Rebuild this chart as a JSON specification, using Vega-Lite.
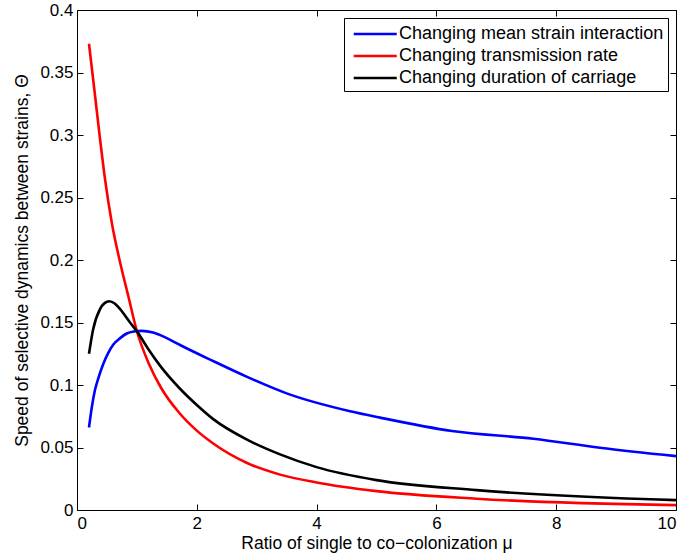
{
  "$schema": "https://vega.github.io/schema/vega-lite/v6.json",
  "autosize": {"type": "none"},
  "padding": {"left": 77, "top": 10, "right": 11, "bottom": 49},
  "width": 599,
  "height": 500,
  "background": "white",
  "config": {
    "font": "Liberation Sans",
    "view": {"stroke": "black", "strokeWidth": 1},
    "axis": {"grid": false, "domain": false, "ticks": true, "zindex": 1, "tickColor": "black", "tickWidth": 1, "tickOpacity": 1, "tickSize": 6, "offset": -6, "labelColor": "black", "titleColor": "black", "labelFont": "Liberation Sans", "titleFont": "Liberation Sans", "titleFontWeight": "normal"}
  },
  "datasets": {
    "curves": [
      {"s": "Changing mean strain interaction", "mu": 0.2, "theta": 0.066},
      {"s": "Changing mean strain interaction", "mu": 0.25, "theta": 0.083},
      {"s": "Changing mean strain interaction", "mu": 0.3, "theta": 0.096},
      {"s": "Changing mean strain interaction", "mu": 0.36, "theta": 0.106},
      {"s": "Changing mean strain interaction", "mu": 0.44, "theta": 0.117},
      {"s": "Changing mean strain interaction", "mu": 0.52, "theta": 0.1255},
      {"s": "Changing mean strain interaction", "mu": 0.61, "theta": 0.1326},
      {"s": "Changing mean strain interaction", "mu": 0.72, "theta": 0.1375},
      {"s": "Changing mean strain interaction", "mu": 0.83, "theta": 0.1412},
      {"s": "Changing mean strain interaction", "mu": 0.95, "theta": 0.1428},
      {"s": "Changing mean strain interaction", "mu": 1.08, "theta": 0.1433},
      {"s": "Changing mean strain interaction", "mu": 1.27, "theta": 0.142},
      {"s": "Changing mean strain interaction", "mu": 1.5, "theta": 0.1375},
      {"s": "Changing mean strain interaction", "mu": 1.72, "theta": 0.132},
      {"s": "Changing mean strain interaction", "mu": 2.28, "theta": 0.119},
      {"s": "Changing mean strain interaction", "mu": 2.83, "theta": 0.1067},
      {"s": "Changing mean strain interaction", "mu": 3.5, "theta": 0.0933},
      {"s": "Changing mean strain interaction", "mu": 4.56, "theta": 0.079},
      {"s": "Changing mean strain interaction", "mu": 5.06, "theta": 0.0739},
      {"s": "Changing mean strain interaction", "mu": 6.26, "theta": 0.0632},
      {"s": "Changing mean strain interaction", "mu": 7.62, "theta": 0.057},
      {"s": "Changing mean strain interaction", "mu": 8.73, "theta": 0.0498},
      {"s": "Changing mean strain interaction", "mu": 10, "theta": 0.0431},
      {"s": "Changing transmission rate", "mu": 0.2, "theta": 0.373},
      {"s": "Changing transmission rate", "mu": 0.3, "theta": 0.332},
      {"s": "Changing transmission rate", "mu": 0.384, "theta": 0.297},
      {"s": "Changing transmission rate", "mu": 0.467, "theta": 0.265},
      {"s": "Changing transmission rate", "mu": 0.58, "theta": 0.23},
      {"s": "Changing transmission rate", "mu": 0.72, "theta": 0.198},
      {"s": "Changing transmission rate", "mu": 0.857, "theta": 0.171},
      {"s": "Changing transmission rate", "mu": 1.0, "theta": 0.143},
      {"s": "Changing transmission rate", "mu": 1.2, "theta": 0.117},
      {"s": "Changing transmission rate", "mu": 1.4, "theta": 0.098},
      {"s": "Changing transmission rate", "mu": 1.72, "theta": 0.077},
      {"s": "Changing transmission rate", "mu": 2.0, "theta": 0.0635},
      {"s": "Changing transmission rate", "mu": 2.28, "theta": 0.053},
      {"s": "Changing transmission rate", "mu": 2.83, "theta": 0.0378},
      {"s": "Changing transmission rate", "mu": 3.39, "theta": 0.0283},
      {"s": "Changing transmission rate", "mu": 4.0, "theta": 0.022},
      {"s": "Changing transmission rate", "mu": 5.0, "theta": 0.0151},
      {"s": "Changing transmission rate", "mu": 6.67, "theta": 0.009},
      {"s": "Changing transmission rate", "mu": 10, "theta": 0.0039},
      {"s": "Changing duration of carriage", "mu": 0.2, "theta": 0.125},
      {"s": "Changing duration of carriage", "mu": 0.27, "theta": 0.1446},
      {"s": "Changing duration of carriage", "mu": 0.384, "theta": 0.1607},
      {"s": "Changing duration of carriage", "mu": 0.46, "theta": 0.1655},
      {"s": "Changing duration of carriage", "mu": 0.54, "theta": 0.167},
      {"s": "Changing duration of carriage", "mu": 0.63, "theta": 0.1652},
      {"s": "Changing duration of carriage", "mu": 0.72, "theta": 0.1607},
      {"s": "Changing duration of carriage", "mu": 0.885, "theta": 0.15},
      {"s": "Changing duration of carriage", "mu": 1.0, "theta": 0.143},
      {"s": "Changing duration of carriage", "mu": 1.2, "theta": 0.128},
      {"s": "Changing duration of carriage", "mu": 1.386, "theta": 0.1155},
      {"s": "Changing duration of carriage", "mu": 1.72, "theta": 0.097},
      {"s": "Changing duration of carriage", "mu": 2.0, "theta": 0.084},
      {"s": "Changing duration of carriage", "mu": 2.28, "theta": 0.0725},
      {"s": "Changing duration of carriage", "mu": 2.83, "theta": 0.0565},
      {"s": "Changing duration of carriage", "mu": 3.39, "theta": 0.0445},
      {"s": "Changing duration of carriage", "mu": 4.0, "theta": 0.0343},
      {"s": "Changing duration of carriage", "mu": 5.0, "theta": 0.0239},
      {"s": "Changing duration of carriage", "mu": 6.67, "theta": 0.0159},
      {"s": "Changing duration of carriage", "mu": 10, "theta": 0.0079}
    ]
  },
  "data": {"name": "curves"},
  "layer": [
    {
      "mark": {"type": "line", "strokeWidth": 2.6, "strokeJoin": "round", "interpolate": "monotone"},
      "encoding": {
        "x": {"field": "mu", "type": "quantitative", "scale": {"domain": [0, 10], "nice": false},
          "axis": {"orient": "bottom", "values": [0, 2, 4, 6, 8, 10], "labelPadding": 5, "labelFontSize": 17, "title": "Ratio of single to co\u2212colonization \u03bc", "titleFontSize": 17.5, "titlePadding": 3}},
        "y": {"field": "theta", "type": "quantitative", "scale": {"domain": [0, 0.4], "nice": false, "zero": true},
          "axis": {"orient": "left", "values": [0, 0.05, 0.1, 0.15, 0.2, 0.25, 0.3, 0.35, 0.4], "format": "~g", "labelPadding": 4, "labelFontSize": 17, "title": "Speed of selective dynamics between strains, \u0398", "titleFontSize": 17.5, "titlePadding": 8}},
        "color": {"field": "s", "type": "nominal",
          "scale": {"domain": ["Changing mean strain interaction", "Changing transmission rate", "Changing duration of carriage"], "range": ["#0000ff", "#ff0000", "#000000"]},
          "legend": {"orient": "top-right", "offset": 8, "title": null, "symbolType": "M-0.6,0H3.5", "symbolSize": 441, "symbolStrokeWidth": 2.6, "labelFontSize": 18, "labelLimit": 0, "labelOffset": 27, "labelColor": "black", "labelFont": "Liberation Sans", "strokeColor": "black", "fillColor": "white", "padding": 4, "rowPadding": 1, "cornerRadius": 0}}
      }
    },
    {
      "mark": {"type": "line", "opacity": 0},
      "encoding": {
        "x": {"field": "mu", "type": "quantitative", "axis": {"orient": "top", "values": [0, 2, 4, 6, 8, 10], "labels": false, "title": null}},
        "y": {"field": "theta", "type": "quantitative", "axis": {"orient": "right", "values": [0, 0.05, 0.1, 0.15, 0.2, 0.25, 0.3, 0.35, 0.4], "labels": false, "title": null}},
        "detail": {"field": "s"}
      }
    }
  ],
  "resolve": {"axis": {"x": "independent", "y": "independent"}}
}
